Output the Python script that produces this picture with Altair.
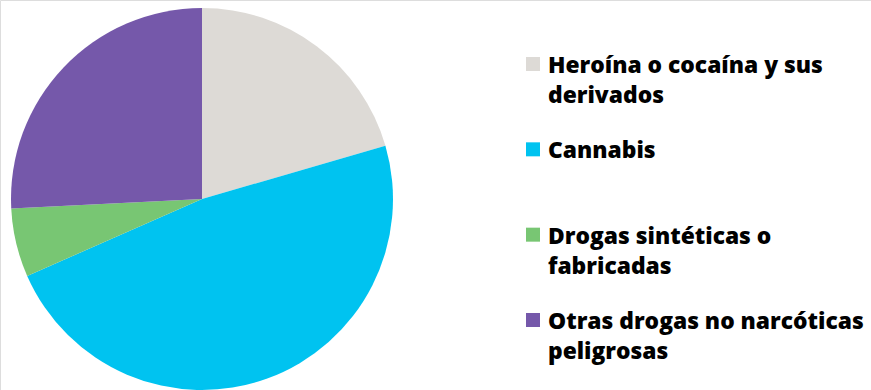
import altair as alt
import pandas as pd

categories = [
    "Heroína o cocaína y sus derivados",
    "Cannabis",
    "Drogas sintéticas o fabricadas",
    "Otras drogas no narcóticas peligrosas",
]
legend_labels = [
    "Heroína o cocaína y sus\nderivados",
    "Cannabis",
    "Drogas sintéticas o\nfabricadas",
    "Otras drogas no narcóticas\npeligrosas",
]
shares = [20.5, 47.9, 5.8, 25.8]
colors = ["#DDDAD6", "#00C3F0", "#78C673", "#7558AA"]

df = pd.DataFrame({
    "cat": categories,
    "label": legend_labels,
    "value": shares,
    "idx": list(range(len(categories))),
})

color_scale = alt.Scale(domain=categories, range=colors)

pie = alt.Chart(df).mark_arc(radius=191, stroke=None).encode(
    theta=alt.Theta("value:Q", stack=True),
    order=alt.Order("idx:Q"),
    color=alt.Color("cat:N", scale=color_scale, legend=None),
    x=alt.value(202),
    y=alt.value(199),
)

ypos = alt.Y("cat:N", sort=categories,
             scale=alt.Scale(type="point", range=[64, 320], padding=0),
             axis=None)

squares = alt.Chart(df).mark_square(size=196, opacity=1, strokeWidth=0).encode(
    x=alt.value(533),
    y=ypos,
    color=alt.Color("cat:N", scale=color_scale, legend=None),
)

texts = alt.Chart(df).mark_text(
    align="left", baseline="alphabetic", dy=9, lineBreak="\n", lineHeight=30,
    font="Open Sans", fontWeight=800, fontSize=22.8, color="#000000",
).encode(
    x=alt.value(548),
    y=ypos,
    text="label:N",
)

chart = alt.layer(pie, squares, texts).properties(
    width=871, height=390,
    autosize=alt.AutoSizeParams(type="none"),
    padding=0,
).configure_view(stroke=None).configure(background="white")

chart.save("out.html", embed_options={"renderer": "svg", "actions": False})
